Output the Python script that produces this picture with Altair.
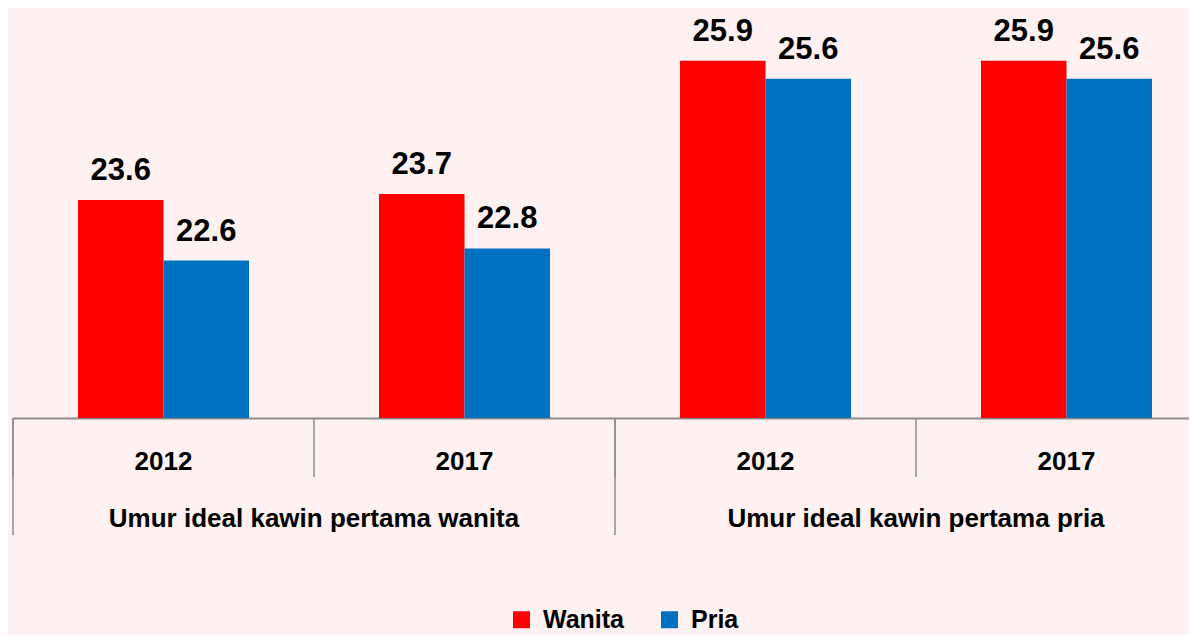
import altair as alt
import pandas as pd

# ---- data ----
groups = ["Umur ideal kawin pertama wanita", "Umur ideal kawin pertama wanita",
          "Umur ideal kawin pertama pria", "Umur ideal kawin pertama pria"]
years = ["2012", "2017", "2012", "2017"]
wanita = [23.6, 23.7, 25.9, 25.9]
pria = [22.6, 22.8, 25.6, 25.6]
series = ["Wanita", "Pria"]
colors = ["#FF0000", "#0070C0"]

keys = [f"{g}|{y}" for g, y in zip(groups, years)]

rows = []
for k, w, p in zip(keys, wanita, pria):
    rows.append({"key": k, "series": "Wanita", "value": w})
    rows.append({"key": k, "series": "Pria", "value": p})
df = pd.DataFrame(rows)

cat_df = pd.DataFrame({"key": keys})
grp_start = pd.DataFrame({"key": [keys[0], keys[2]]})
grp_label = pd.DataFrame({"key": [keys[1], keys[3]], "group": [groups[0], groups[2]]})

FONT = "Liberation Sans"
GRAY = "#8C8C8C"
H = 410
W = 1176

xscale = alt.Scale(domain=keys, range=[0, 1204], paddingInner=0, paddingOuter=0)
yscale = alt.Scale(domain=[20, 26.77], zero=False, nice=False)

x_main = alt.X("key:N", scale=xscale, sort=keys, title=None,
               axis=alt.Axis(labelExpr="split(datum.label, '|')[1]",
                             labelAngle=0, ticks=False, domain=True,
                             domainColor=GRAY, domainWidth=2,
                             labelFont=FONT, labelFontSize=26, labelFontWeight="bold",
                             labelColor="#000000", labelBaseline="alphabetic",
                             labelPadding=51, grid=False))
xoff = alt.XOffset("series:N", sort=series,
                   scale=alt.Scale(paddingOuter=0.76, paddingInner=0))

bars = alt.Chart(df).mark_bar().encode(
    x=x_main,
    xOffset=xoff,
    y=alt.Y("value:Q", scale=yscale, axis=None),
    y2=alt.datum(20),
    color=alt.Color("series:N", sort=series,
                    scale=alt.Scale(domain=series, range=colors),
                    legend=alt.Legend(title=None, orient="none", direction="horizontal",
                                      legendX=496, legendY=599,
                                      symbolType="square", symbolSize=289,
                                      symbolStrokeWidth=0, labelOffset=9,
                                      columnPadding=32, padding=0,
                                      labelFont=FONT, labelFontSize=25,
                                      labelFontWeight="bold", labelColor="#000000")),
)

labels = alt.Chart(df).mark_text(
    font=FONT, fontSize=31, fontWeight="bold", color="#000000",
    baseline="alphabetic", dy=-20,
).encode(
    x=alt.X("key:N", sort=keys),
    xOffset=xoff,
    y=alt.Y("value:Q"),
    text=alt.Text("value:Q", format=".1f"),
)

short_rules = alt.Chart(cat_df).mark_rule(color=GRAY, strokeWidth=1.5).encode(
    x=alt.X("key:N", sort=keys, bandPosition=0),
    y=alt.value(H),
    y2=alt.value(H + 59),
)

long_rules = alt.Chart(grp_start).mark_rule(color=GRAY, strokeWidth=1.5).encode(
    x=alt.X("key:N", sort=keys, bandPosition=0),
    y=alt.value(H),
    y2=alt.value(H + 117),
)

group_text = alt.Chart(grp_label).mark_text(
    font=FONT, fontSize=26, fontWeight="bold", color="#000000",
    baseline="alphabetic", align="center",
).encode(
    x=alt.X("key:N", sort=keys, bandPosition=0),
    y=alt.value(H + 109),
    text="group:N",
)

chart = alt.layer(bars, labels, short_rules, long_rules, group_text).properties(
    width=W, height=H,
    autosize=alt.AutoSizeParams(type="none"),
    padding={"left": 5, "top": 0, "right": 0, "bottom": 217},
    background="#FDF1F1",
).configure_view(stroke=None)

chart.save("out.html", embed_options={"renderer": "svg", "actions": False})
